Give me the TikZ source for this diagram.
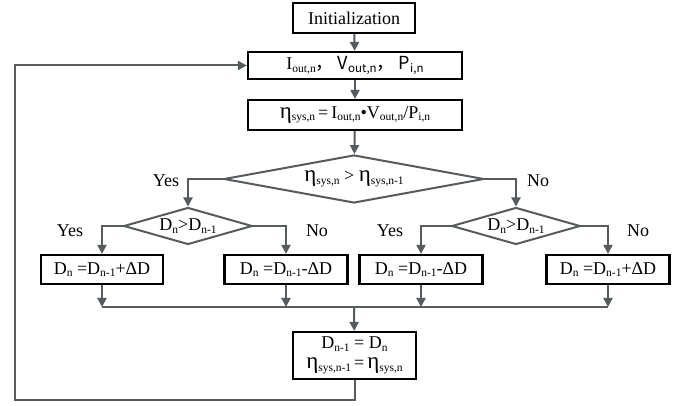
\documentclass[tikz,border=0pt]{standalone}
\usepackage{fontspec}
\setmainfont{Liberation Serif}
\newfontfamily\cjk{Noto Sans CJK SC}
\usetikzlibrary{shapes.geometric,arrows.meta}
\definecolor{ln}{RGB}{86,91,94}
\newcommand{\lo}[1]{\raisebox{-0.3ex}{\fontsize{11.5}{11.5}\selectfont #1}}
\newcommand{\bigeta}{{\fontsize{23}{18}\selectfont η}}

\begin{document}
\begin{tikzpicture}[x=1pt,y=-1pt,
  box/.style={draw=black,line width=2.2pt,inner sep=0pt,minimum height=29pt},
  choice/.style={diamond,draw=ln,line width=2pt,inner sep=0pt,aspect=5},
  flow/.style={draw=ln,line width=2pt,-{Triangle[length=9pt,width=9pt]}},
  wire/.style={draw=ln,line width=2pt},
  font=\rmfamily\fontsize{18}{21}\selectfont]

\useasboundingbox (0,0) rectangle (686,406);

\node[box,minimum width=122pt,minimum height=30pt] (init) at (354,18) {Initialization};
\node[box,minimum width=214pt,minimum height=27pt] (meas) at (355,65.5)
  {I\lo{out,n}\cjk{，} V\lo{out,n}\cjk{，} P\lo{i,n}};
\node[box,minimum width=214pt,minimum height=30pt] (eff) at (355,115)
  {\bigeta\lo{sys,n}\,=\,I\lo{out,n}•V\lo{out,n}/P\lo{i,n}};

\node[choice,minimum width=260pt,minimum height=48pt] (dec1) at (354,179)
  {\bigeta\lo{sys,n} > \bigeta\lo{sys,n-1}};
\node[choice,minimum width=128pt,minimum height=37pt] (dec2) at (188,226) {D\lo{n}>D\lo{n-1}};
\node[choice,minimum width=126pt,minimum height=37pt] (dec3) at (516,226) {D\lo{n}>D\lo{n-1}};

\node (yes1) at (166,181) {Yes};
\node (no1) at (538,181) {No};
\node (yes2) at (70,231) {Yes};
\node (no2) at (317,231) {No};
\node (yes3) at (390,231) {Yes};
\node (no3) at (638,231) {No};

\node[box,minimum width=122pt] (upA) at (102,269.5) {D\lo{n} =D\lo{n-1}+ΔD};
\node[box,minimum width=123pt] (dnB) at (286,269.5) {D\lo{n} =D\lo{n-1}-ΔD};
\node[box,minimum width=123pt] (dnC) at (421,269.5) {D\lo{n} =D\lo{n-1}-ΔD};
\node[box,minimum width=123pt] (upD) at (608,269.5) {D\lo{n} =D\lo{n-1}+ΔD};

\node[box,minimum width=123pt,minimum height=47pt,align=center] (save) at (354.5,355.5)
  {D\lo{n-1} = D\lo{n}\\[-1pt]\bigeta\lo{sys,n-1}\,=\,\bigeta\lo{sys,n}};

\coordinate (bus) at (354,307);
\coordinate (loop) at (15,400);

\draw[flow] (init) -- (meas);
\draw[flow] (meas) -- (eff);
\draw[flow] (eff) -- (dec1);
\draw[flow] (dec1.west) -| (dec2.north);
\draw[flow] (dec1.east) -| (dec3.north);
\draw[flow] (dec2.west) -| (upA.north);
\draw[flow] (dec2.east) -| (dnB.north);
\draw[flow] (dec3.west) -| (dnC.north);
\draw[flow] (dec3.east) -| (upD.north);

\draw[flow] (upA) -- (upA|-bus);
\draw[flow] (dnB) -- (dnB|-bus);
\draw[flow] (dnC) -- (dnC|-bus);
\draw[flow] (upD) -- (upD|-bus);
\draw[wire] (upA|-bus) -- (upD|-bus);
\draw[flow] (bus) -- (save);

\draw[flow] (save.south) |- (loop) |- (meas.west);
\end{tikzpicture}
\end{document}
